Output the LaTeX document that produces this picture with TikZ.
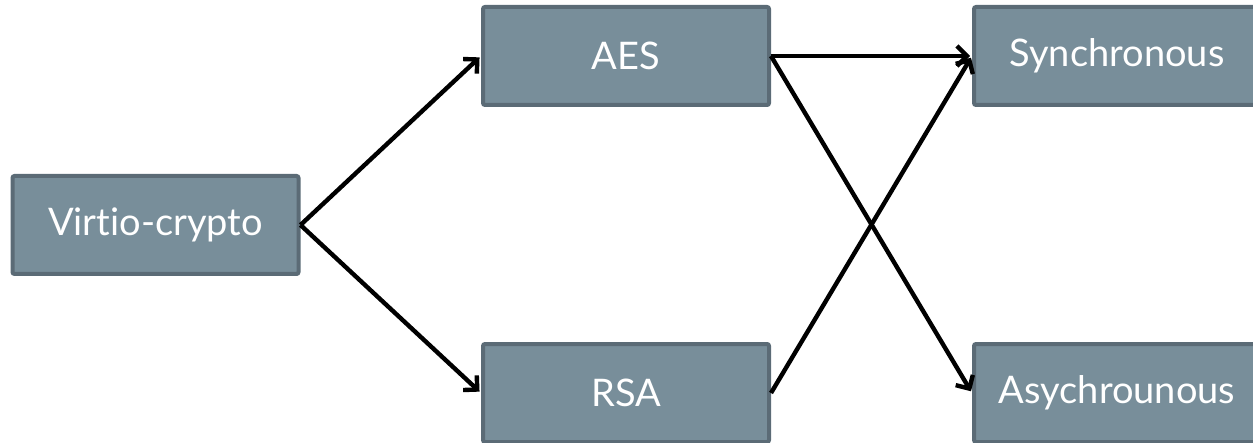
\documentclass[tikz,border=0pt]{standalone}
\usepackage{fontspec}
\setmainfont{Lato}[Ligatures=NoCommon]
\usetikzlibrary{arrows.meta}
\definecolor{slatefill}{HTML}{788E9A}
\definecolor{slateedge}{HTML}{5B6B76}
\tikzset{box/.style={draw=slateedge, fill=slatefill, line width=2pt, rounded corners=1pt, minimum width=143pt, minimum height=49pt, text=white, font=\fontsize{19}{22}\selectfont, inner sep=0pt}}
\tikzset{link/.style={line width=2.2pt, color=black, -{Straight Barb[length=5pt,width=10pt,line width=2.2pt]}, shorten >=1pt}}

\begin{document}
\begin{tikzpicture}[x=0.5pt, y=-0.5pt]
        \clip (0,0) rectangle (1253,443);

        \node[box] (virtio) at (155.5,225) {Virtio-crypto};
        \node[box] (aes) at (626,56) {AES};
        \node[box] (rsa) at (626,393) {RSA};
        \node[box] (sync) at (1117,56) {Synchronous};
        \node[box] (async) at (1117,393) {Asychrounous};

        \draw[link] (virtio.east) -- (aes.west);
        \draw[link] (virtio.east) -- (rsa.west);
        \draw[link] (aes.east) -- (sync.west);
        \draw[link] (aes.east) -- (async.west);
        \draw[link] (rsa.east) -- (sync.west);
    \end{tikzpicture}
\end{document}
